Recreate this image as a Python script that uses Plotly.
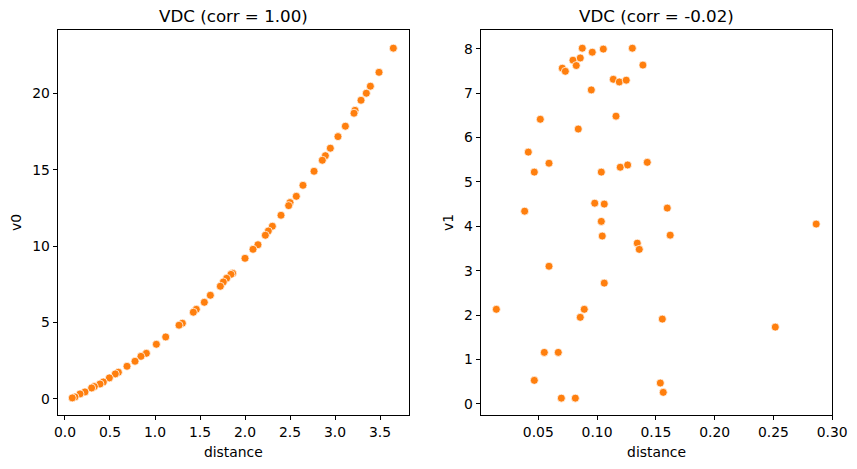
import plotly.graph_objects as go

# Left panel: distance vs v0
dist0 = [3.648, 3.489, 3.393, 3.348, 3.289, 3.222, 3.211, 3.115, 3.033, 2.948,
         2.893, 2.859, 2.767, 2.644, 2.570, 2.500, 2.485, 2.400, 2.304, 2.259,
         2.226, 2.144, 2.089, 2.000, 1.863, 1.844, 1.796, 1.759, 1.726, 1.615,
         1.548, 1.459, 1.426, 1.304, 1.267, 1.119, 1.015, 0.904, 0.844, 0.778,
         0.689, 0.593, 0.559, 0.493, 0.426, 0.389, 0.326, 0.296, 0.222, 0.167,
         0.111, 0.081]
v0 = [22.97, 21.39, 20.48, 20.02, 19.56, 18.90, 18.71, 17.86, 17.18, 16.42,
      15.93, 15.63, 14.91, 13.99, 13.27, 12.86, 12.66, 12.03, 11.31, 11.00,
      10.72, 10.10, 9.80, 9.21, 8.23, 8.16, 7.90, 7.66, 7.38, 6.79,
      6.33, 5.87, 5.68, 4.96, 4.83, 4.06, 3.58, 2.99, 2.79, 2.47,
      2.14, 1.75, 1.64, 1.38, 1.11, 0.98, 0.81, 0.72, 0.46, 0.33,
      0.13, 0.07]

# Right panel: distance vs v1
dist1 = [0.0874, 0.0959, 0.1053, 0.1300, 0.0795, 0.0857, 0.0704, 0.0730, 0.0823, 0.1390,
         0.1138, 0.1189, 0.1248, 0.0951, 0.0517, 0.1161, 0.0840, 0.0415, 0.0591, 0.0466,
         0.1036, 0.1197, 0.1260, 0.1427, 0.0384, 0.0980, 0.1061, 0.1597, 0.1036, 0.2864,
         0.1044, 0.1622, 0.1342, 0.1359, 0.0591, 0.1061, 0.0143, 0.0891, 0.0857, 0.1555,
         0.2516, 0.0551, 0.0670, 0.0466, 0.1538, 0.1563, 0.0696, 0.0815]
v1 = [8.01, 7.92, 7.99, 8.01, 7.74, 7.79, 7.56, 7.49, 7.62, 7.63,
      7.31, 7.25, 7.29, 7.07, 6.41, 6.48, 6.19, 5.67, 5.42, 5.22,
      5.22, 5.33, 5.38, 5.44, 4.34, 4.52, 4.50, 4.41, 4.11, 4.05,
      3.78, 3.80, 3.62, 3.48, 3.10, 2.72, 2.13, 2.13, 1.95, 1.91,
      1.73, 1.16, 1.16, 0.53, 0.47, 0.26, 0.13, 0.13]

titles = ["VDC (corr = 1.00)", "VDC (corr = -0.02)"]
x_ticks0 = [0.0, 0.5, 1.0, 1.5, 2.0, 2.5, 3.0, 3.5]
y_ticks0 = [0, 5, 10, 15, 20]
x_ticks1 = [0.05, 0.10, 0.15, 0.20, 0.25, 0.30]
y_ticks1 = [0, 1, 2, 3, 4, 5, 6, 7, 8]

W, H = 857, 469
ORANGE = "#ff7f0e"
FONT = "DejaVu Sans"
LBL = 13.9
TTL = 16.7

marker = dict(color=ORANGE, size=8, line=dict(color="white", width=0.75))

fig = go.Figure()
fig.add_trace(go.Scatter(x=dist0, y=v0, mode="markers", marker=marker,
                         xaxis="x", yaxis="y", showlegend=False))
fig.add_trace(go.Scatter(x=dist1, y=v1, mode="markers", marker=marker,
                         xaxis="x2", yaxis="y2", showlegend=False))

def px_x(p):
    return p / W

def px_y(p):
    return 1 - p / H

axis_common = dict(showline=True, linecolor="black", linewidth=1, mirror=True,
                   ticks="outside", ticklen=4, tickwidth=1, tickcolor="black",
                   showgrid=False, zeroline=False, automargin=False,
                   tickfont=dict(family=FONT, size=LBL, color="black"))

fig.update_layout(
    width=W, height=H,
    margin=dict(l=0, r=0, t=0, b=0),
    paper_bgcolor="white", plot_bgcolor="white",
    font=dict(family=FONT, color="black"),
    xaxis=dict(domain=[px_x(57.7), px_x(409)], range=[-0.081, 3.822],
               tickvals=x_ticks0, ticktext=[f"{v:.1f}" for v in x_ticks0],
               title=dict(text="distance", standoff=8, font=dict(size=LBL)),
               anchor="y", **axis_common),
    yaxis=dict(domain=[px_y(415), px_y(30)], range=[-1.05, 24.16],
               tickvals=y_ticks0, ticktext=[str(v) for v in y_ticks0],
               title=dict(text="v0", standoff=7, font=dict(size=LBL)),
               anchor="x", **axis_common),
    xaxis2=dict(domain=[px_x(480.7), px_x(832.3)], range=[0.001, 0.3001],
                tickvals=x_ticks1, ticktext=[f"{v:.2f}" for v in x_ticks1],
                title=dict(text="distance", standoff=8, font=dict(size=LBL)),
                anchor="y2", **axis_common),
    yaxis2=dict(domain=[px_y(415), px_y(30)], range=[-0.25, 8.42],
                tickvals=y_ticks1, ticktext=[str(v) for v in y_ticks1],
                title=dict(text="v1", standoff=7, font=dict(size=LBL)),
                anchor="x2", **axis_common),
)

for i, t in enumerate(titles):
    cx = (57.7 + 409) / 2 if i == 0 else (480.7 + 832.3) / 2
    fig.add_annotation(text=t, x=px_x(cx), y=px_y(16), xref="paper", yref="paper",
                       xanchor="center", yanchor="middle", showarrow=False,
                       font=dict(family=FONT, size=TTL, color="black"))

fig.write_html("out.html")
